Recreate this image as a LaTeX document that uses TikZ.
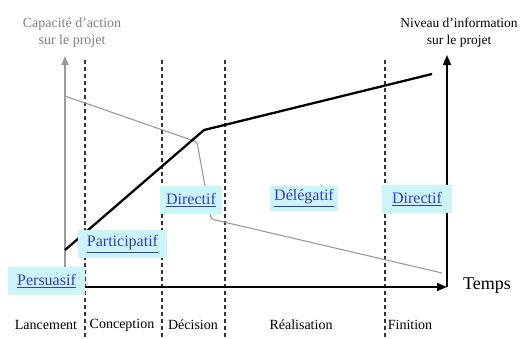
\documentclass[tikz,border=0pt]{standalone}
\usepackage{fontspec}
\setmainfont{Liberation Serif}
\usetikzlibrary{arrows.meta}
\definecolor{boxfill}{HTML}{CCF5FA}
\definecolor{linkblue}{HTML}{3838C8}
\definecolor{axisgray}{HTML}{9A9A9A}
\definecolor{textgray}{HTML}{808080}
\tikzset{
  phase/.style={draw=black!80, line width=1.1pt, dash pattern=on 4pt off 3pt},
  stylebox/.style={fill=boxfill, inner sep=0pt, minimum height=28pt, text=linkblue, font=\fontsize{16}{18}\selectfont},
  phaselabel/.style={font=\fontsize{14}{16}\selectfont, inner sep=0pt},
  axislabel/.style={font=\fontsize{14}{16}\selectfont, align=center, inner sep=0pt},
}
\begin{document}
\begin{tikzpicture}[x=1pt,y=-1pt]
\useasboundingbox (0,0) rectangle (522,338);
% phase separators
\foreach \xx/\nm in {85/a,162/b,225/c,385/d}{
  \coordinate (top\nm) at (\xx,60);
  \coordinate (bot\nm) at (\xx,338);
  \draw[phase] (top\nm) -- (bot\nm);
}
% axes
\coordinate (origin) at (65,287);
\coordinate (gtop) at (65,56);
\coordinate (corner) at (447,287);
\coordinate (btop) at (447,55);
\draw[axisgray, line width=1.3pt, -{Triangle[length=9pt,width=7pt]}] (origin) -- (gtop);
\draw[black, line width=1.5pt, -{Triangle[length=10pt,width=8pt]}] (origin) -- (corner);
\draw[black, line width=1.8pt, -{Triangle[length=10pt,width=8pt]}] (corner) -- (btop);
% capacity curve (gray)
\coordinate (g1) at (65,96);
\coordinate (g2) at (197,142);
\coordinate (g3) at (211,219);
\coordinate (g4) at (442,273);
\draw[axisgray, line width=1.1pt, rounded corners=3pt] (g1) -- (g2) -- (g3) -- (g4);
% information curve (black)
\coordinate (k1) at (65,250);
\coordinate (k2) at (204,130);
\coordinate (k3) at (432,74);
\draw[black, line width=2.3pt] (k1) -- (k2) -- (k3);
% style boxes
\node[stylebox, minimum width=77pt] (persuasif) at (46.5,281) {\underline{Persuasif}};
\node[stylebox, minimum width=89pt] (participatif) at (122.5,244) {\underline{Participatif}};
\node[stylebox, minimum width=62pt] (directif1) at (191,200) {\underline{Directif}};
\node[stylebox, minimum width=68pt, minimum height=25pt] (delegatif) at (304,198) {\underline{Délégatif}};
\node[stylebox, minimum width=70pt] (directif2) at (417,199) {\underline{Directif}};
% axis labels
\node[axislabel, text=textgray] (caplabel) at (72,33) {Capacité d’action\\[1pt]sur le projet};
\node[axislabel, font=\fontsize{13.5}{16}\selectfont] (infolabel) at (459,33) {Niveau d’information\\[1pt]sur le projet};
\node[font=\fontsize{18}{20}\selectfont, inner sep=0pt] (temps) at (487,286) {Temps};
% phase labels
\node[phaselabel] (lancement) at (46,325) {Lancement};
\node[phaselabel] (conception) at (122,325) {Conception};
\node[phaselabel] (decision) at (193,325) {Décision};
\node[phaselabel] (realisation) at (301,325) {Réalisation};
\node[phaselabel] (finition) at (410,325) {Finition};
\end{tikzpicture}
\end{document}
